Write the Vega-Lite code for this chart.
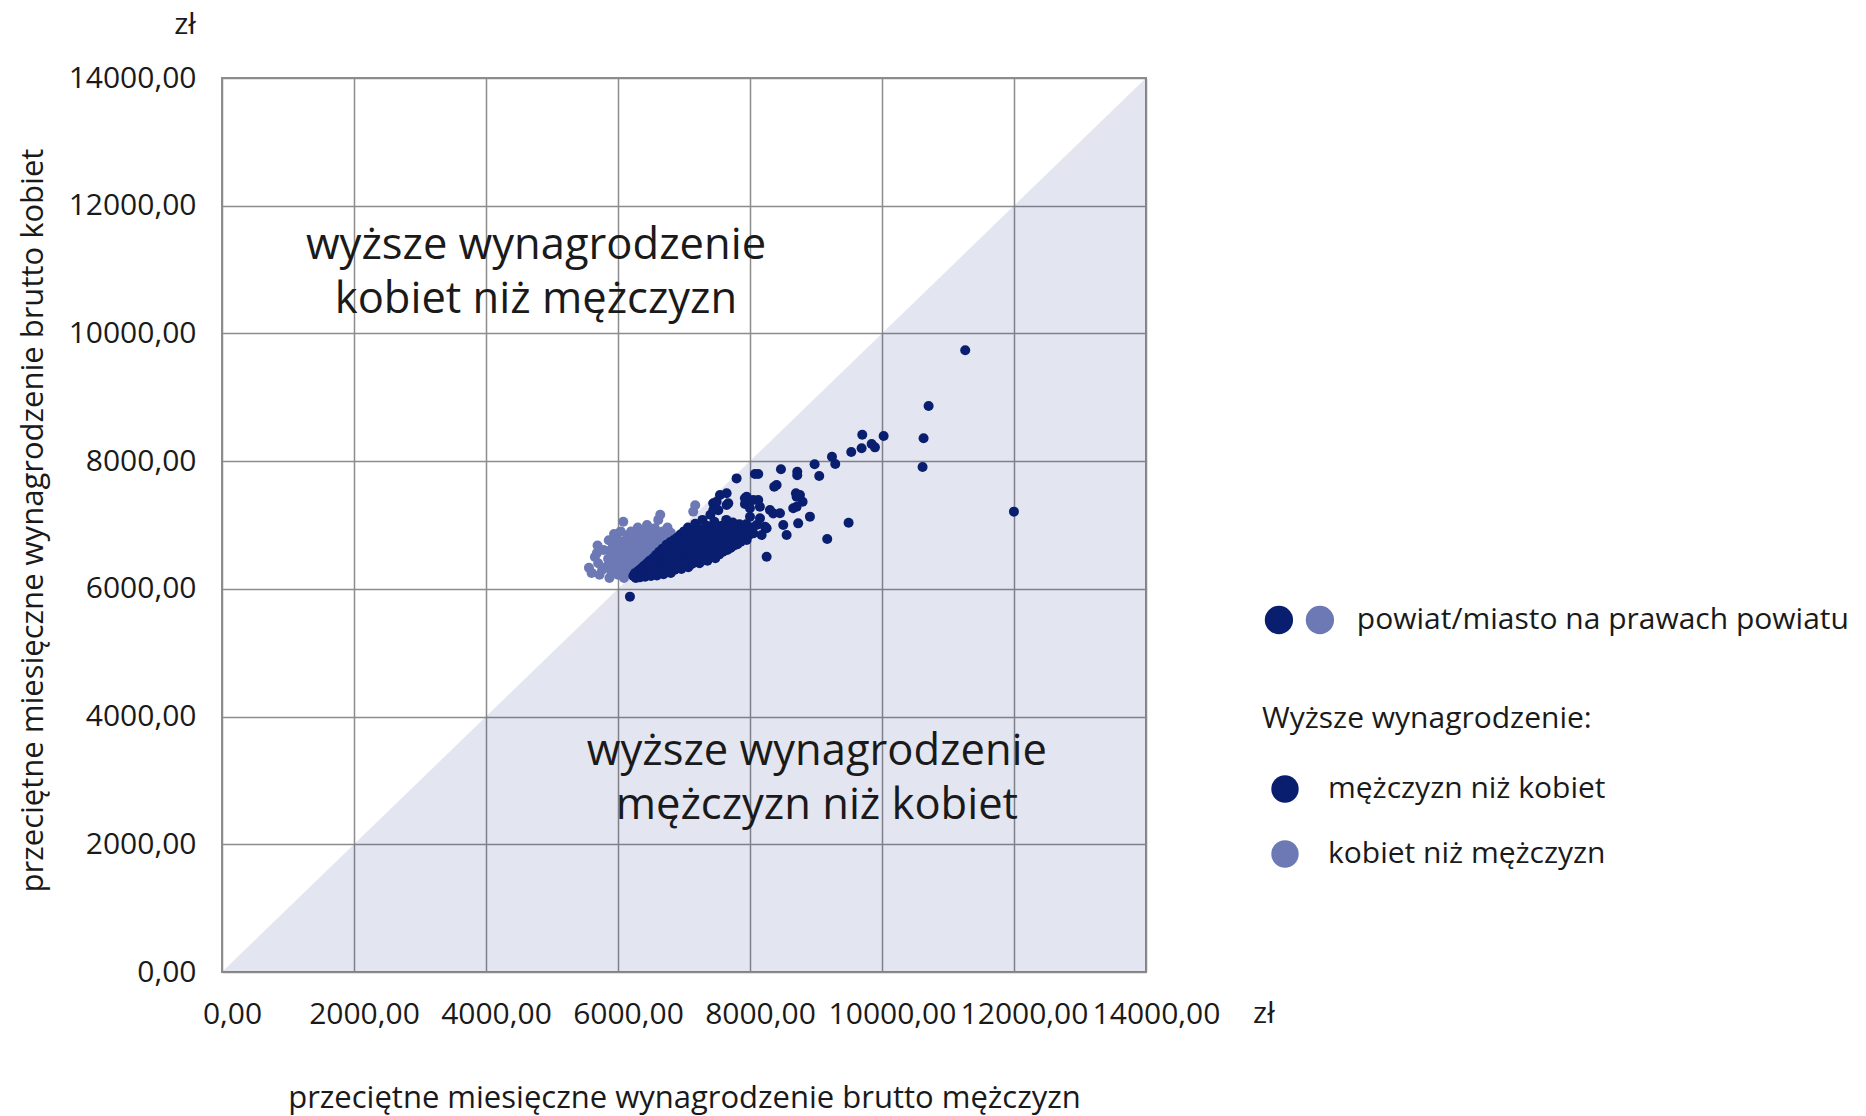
{
"$schema": "https://vega.github.io/schema/vega-lite/v6.json",
"width": 924, "height": 894,
"autosize": {"type": "none"},
"padding": {"left": 222, "top": 78, "right": 720, "bottom": 144},
"background": "white",
"config": {"view": {"stroke": "#8c8c8c", "strokeWidth": 2}, "font": "Open Sans", "text": {"color": "#1a1a1a"}},
"datasets": {
"tri": [{"x":0,"y":0},{"x":14000,"y":14000}],
"big": [{"x":4757,"y":11369,"t":"wyższe wynagrodzenie\nkobiet niż mężczyzn"},{"x":9014,"y":3445,"t":"wyższe wynagrodzenie\nmężczyzn niż kobiet"}],
"zl": [{"x":-560,"y":14830,"t":"zł"},{"x":15786,"y":-658,"t":"zł"}],
"legtxt": [{"x":17195,"y":5512,"t":"powiat/miasto na prawach powiatu"}],
"legdot": [{"x":16014,"y":5512,"g":"m"},{"x":16635,"y":5512,"g":"k"}],
"pts": [
{"x":5560,"y":6330,"g":"k"},{"x":5600,"y":6250,"g":"k"},{"x":5650,"y":6500,"g":"k"},{"x":5680,"y":6560,"g":"k"},{"x":5690,"y":6680,"g":"k"},{"x":5720,"y":6220,"g":"k"},{"x":5700,"y":6400,"g":"k"},{"x":5760,"y":6300,"g":"k"},{"x":5780,"y":6610,"g":"k"},
{"x":5830,"y":6350,"g":"k"},{"x":5850,"y":6470,"g":"k"},{"x":5860,"y":6760,"g":"k"},{"x":5870,"y":6170,"g":"k"},{"x":5880,"y":6600,"g":"k"},
{"x":5900,"y":6260,"g":"k"},{"x":5910,"y":6380,"g":"k"},{"x":5920,"y":6700,"g":"k"},{"x":5930,"y":6520,"g":"k"},{"x":5940,"y":6860,"g":"k"},
{"x":5960,"y":6310,"g":"k"},{"x":5970,"y":6440,"g":"k"},{"x":5980,"y":6620,"g":"k"},{"x":5990,"y":6780,"g":"k"},
{"x":6000,"y":6220,"g":"k"},{"x":6010,"y":6360,"g":"k"},{"x":6020,"y":6500,"g":"k"},{"x":6030,"y":6680,"g":"k"},{"x":6040,"y":6900,"g":"k"},
{"x":6060,"y":6270,"g":"k"},{"x":6070,"y":6420,"g":"k"},{"x":6080,"y":6560,"g":"k"},{"x":6080,"y":7050,"g":"k"},{"x":6090,"y":6740,"g":"k"},{"x":6090,"y":6170,"g":"k"},
{"x":6110,"y":6330,"g":"k"},{"x":6120,"y":6470,"g":"k"},{"x":6130,"y":6620,"g":"k"},{"x":6140,"y":6840,"g":"k"},
{"x":6160,"y":6250,"g":"k"},{"x":6170,"y":6390,"g":"k"},{"x":6180,"y":6540,"g":"k"},{"x":6190,"y":6700,"g":"k"},{"x":6200,"y":6900,"g":"k"},
{"x":6210,"y":6310,"g":"k"},{"x":6220,"y":6450,"g":"k"},{"x":6230,"y":6600,"g":"k"},{"x":6240,"y":6780,"g":"k"},
{"x":6260,"y":6360,"g":"k"},{"x":6270,"y":6510,"g":"k"},{"x":6280,"y":6660,"g":"k"},{"x":6300,"y":6960,"g":"k"},{"x":6310,"y":6850,"g":"k"},
{"x":6320,"y":6420,"g":"k"},{"x":6330,"y":6570,"g":"k"},{"x":6340,"y":6730,"g":"k"},
{"x":6370,"y":6480,"g":"k"},{"x":6380,"y":6630,"g":"k"},{"x":6390,"y":6800,"g":"k"},{"x":6410,"y":6920,"g":"k"},
{"x":6420,"y":6540,"g":"k"},{"x":6430,"y":6690,"g":"k"},{"x":6440,"y":7000,"g":"k"},
{"x":6470,"y":6600,"g":"k"},{"x":6480,"y":6760,"g":"k"},{"x":6500,"y":6880,"g":"k"},
{"x":6520,"y":6650,"g":"k"},{"x":6540,"y":6810,"g":"k"},{"x":6560,"y":6950,"g":"k"},
{"x":6580,"y":6700,"g":"k"},{"x":6600,"y":6860,"g":"k"},{"x":6610,"y":7080,"g":"k"},{"x":6640,"y":7160,"g":"k"},{"x":6650,"y":6760,"g":"k"},{"x":6680,"y":6900,"g":"k"},
{"x":6720,"y":6800,"g":"k"},{"x":6750,"y":6960,"g":"k"},{"x":6800,"y":6880,"g":"k"},{"x":7140,"y":7210,"g":"k"},{"x":7170,"y":7310,"g":"k"},
{"x":6232,"y":6200,"g":"m"},
{"x":6255,"y":6245,"g":"m"},{"x":6270,"y":6170,"g":"m"},
{"x":6300,"y":6215,"g":"m"},{"x":6310,"y":6285,"g":"m"},
{"x":6330,"y":6180,"g":"m"},{"x":6345,"y":6260,"g":"m"},{"x":6350,"y":6320,"g":"m"},
{"x":6375,"y":6225,"g":"m"},{"x":6380,"y":6300,"g":"m"},{"x":6395,"y":6360,"g":"m"},
{"x":6410,"y":6190,"g":"m"},{"x":6420,"y":6265,"g":"m"},{"x":6430,"y":6340,"g":"m"},{"x":6440,"y":6400,"g":"m"},
{"x":6460,"y":6230,"g":"m"},{"x":6465,"y":6310,"g":"m"},{"x":6475,"y":6385,"g":"m"},{"x":6480,"y":6440,"g":"m"},
{"x":6500,"y":6200,"g":"m"},{"x":6505,"y":6280,"g":"m"},{"x":6515,"y":6355,"g":"m"},{"x":6520,"y":6425,"g":"m"},{"x":6530,"y":6480,"g":"m"},
{"x":6545,"y":6245,"g":"m"},{"x":6550,"y":6320,"g":"m"},{"x":6560,"y":6400,"g":"m"},{"x":6565,"y":6470,"g":"m"},{"x":6575,"y":6530,"g":"m"},
{"x":6590,"y":6210,"g":"m"},{"x":6595,"y":6290,"g":"m"},{"x":6600,"y":6370,"g":"m"},{"x":6610,"y":6450,"g":"m"},{"x":6615,"y":6520,"g":"m"},{"x":6625,"y":6580,"g":"m"},
{"x":6640,"y":6260,"g":"m"},{"x":6650,"y":6340,"g":"m"},{"x":6655,"y":6420,"g":"m"},{"x":6660,"y":6500,"g":"m"},{"x":6670,"y":6570,"g":"m"},{"x":6675,"y":6630,"g":"m"},
{"x":6690,"y":6230,"g":"m"},{"x":6700,"y":6310,"g":"m"},{"x":6705,"y":6390,"g":"m"},{"x":6710,"y":6470,"g":"m"},{"x":6720,"y":6550,"g":"m"},{"x":6725,"y":6620,"g":"m"},{"x":6735,"y":6690,"g":"m"},
{"x":6750,"y":6275,"g":"m"},{"x":6760,"y":6355,"g":"m"},{"x":6765,"y":6435,"g":"m"},{"x":6770,"y":6515,"g":"m"},{"x":6780,"y":6590,"g":"m"},{"x":6785,"y":6660,"g":"m"},{"x":6790,"y":6730,"g":"m"},
{"x":6800,"y":6250,"g":"m"},{"x":6810,"y":6330,"g":"m"},{"x":6815,"y":6410,"g":"m"},{"x":6820,"y":6490,"g":"m"},{"x":6830,"y":6570,"g":"m"},{"x":6835,"y":6650,"g":"m"},{"x":6840,"y":6760,"g":"m"},
{"x":6860,"y":6300,"g":"m"},{"x":6865,"y":6385,"g":"m"},{"x":6870,"y":6465,"g":"m"},{"x":6880,"y":6545,"g":"m"},{"x":6885,"y":6625,"g":"m"},{"x":6890,"y":6700,"g":"m"},{"x":6895,"y":6800,"g":"m"},
{"x":6910,"y":6330,"g":"m"},{"x":6915,"y":6410,"g":"m"},{"x":6920,"y":6495,"g":"m"},{"x":6930,"y":6575,"g":"m"},{"x":6935,"y":6655,"g":"m"},{"x":6940,"y":6735,"g":"m"},{"x":6945,"y":6850,"g":"m"},
{"x":6960,"y":6310,"g":"m"},{"x":6965,"y":6390,"g":"m"},{"x":6970,"y":6470,"g":"m"},{"x":6980,"y":6550,"g":"m"},{"x":6985,"y":6630,"g":"m"},{"x":6990,"y":6710,"g":"m"},{"x":6995,"y":6790,"g":"m"},{"x":7000,"y":6900,"g":"m"},
{"x":7010,"y":6360,"g":"m"},{"x":7020,"y":6440,"g":"m"},{"x":7025,"y":6520,"g":"m"},{"x":7030,"y":6600,"g":"m"},{"x":7040,"y":6680,"g":"m"},{"x":7045,"y":6760,"g":"m"},{"x":7050,"y":6860,"g":"m"},{"x":7060,"y":6960,"g":"m"},
{"x":7065,"y":6340,"g":"m"},{"x":7070,"y":6420,"g":"m"},{"x":7080,"y":6500,"g":"m"},{"x":7085,"y":6580,"g":"m"},{"x":7090,"y":6660,"g":"m"},{"x":7100,"y":6740,"g":"m"},{"x":7105,"y":6830,"g":"m"},
{"x":7120,"y":6390,"g":"m"},{"x":7125,"y":6470,"g":"m"},{"x":7130,"y":6550,"g":"m"},{"x":7140,"y":6630,"g":"m"},{"x":7145,"y":6710,"g":"m"},{"x":7150,"y":6790,"g":"m"},{"x":7160,"y":6890,"g":"m"},{"x":7170,"y":7020,"g":"m"},
{"x":7180,"y":6420,"g":"m"},{"x":7185,"y":6500,"g":"m"},{"x":7195,"y":6580,"g":"m"},{"x":7200,"y":6660,"g":"m"},{"x":7205,"y":6740,"g":"m"},{"x":7215,"y":6830,"g":"m"},{"x":7220,"y":6940,"g":"m"},
{"x":7235,"y":6400,"g":"m"},{"x":7240,"y":6480,"g":"m"},{"x":7250,"y":6560,"g":"m"},{"x":7255,"y":6640,"g":"m"},{"x":7260,"y":6720,"g":"m"},{"x":7270,"y":6810,"g":"m"},{"x":7275,"y":6910,"g":"m"},{"x":7280,"y":7080,"g":"m"},
{"x":7295,"y":6450,"g":"m"},{"x":7300,"y":6530,"g":"m"},{"x":7310,"y":6610,"g":"m"},{"x":7315,"y":6690,"g":"m"},{"x":7320,"y":6770,"g":"m"},{"x":7330,"y":6860,"g":"m"},{"x":7340,"y":6990,"g":"m"},
{"x":7355,"y":6440,"g":"m"},{"x":7360,"y":6520,"g":"m"},{"x":7370,"y":6600,"g":"m"},{"x":7375,"y":6680,"g":"m"},{"x":7380,"y":6760,"g":"m"},{"x":7390,"y":6850,"g":"m"},{"x":7400,"y":7160,"g":"m"},
{"x":7415,"y":6500,"g":"m"},{"x":7420,"y":6580,"g":"m"},{"x":7430,"y":6660,"g":"m"},{"x":7435,"y":6740,"g":"m"},{"x":7440,"y":6820,"g":"m"},{"x":7450,"y":6920,"g":"m"},{"x":7460,"y":7050,"g":"m"},
{"x":7475,"y":6480,"g":"m"},{"x":7480,"y":6560,"g":"m"},{"x":7490,"y":6640,"g":"m"},{"x":7495,"y":6720,"g":"m"},{"x":7500,"y":6800,"g":"m"},{"x":7510,"y":6900,"g":"m"},{"x":7520,"y":7230,"g":"m"},
{"x":7535,"y":6540,"g":"m"},{"x":7545,"y":6620,"g":"m"},{"x":7550,"y":6700,"g":"m"},{"x":7560,"y":6780,"g":"m"},{"x":7565,"y":6870,"g":"m"},{"x":7575,"y":6990,"g":"m"},
{"x":7590,"y":6580,"g":"m"},{"x":7600,"y":6660,"g":"m"},{"x":7610,"y":6740,"g":"m"},{"x":7620,"y":6830,"g":"m"},{"x":7630,"y":6930,"g":"m"},{"x":7640,"y":7080,"g":"m"},
{"x":7655,"y":6610,"g":"m"},{"x":7665,"y":6690,"g":"m"},{"x":7670,"y":6780,"g":"m"},{"x":7680,"y":6870,"g":"m"},{"x":7690,"y":6980,"g":"m"},
{"x":7705,"y":6640,"g":"m"},{"x":7715,"y":6730,"g":"m"},{"x":7725,"y":6820,"g":"m"},{"x":7730,"y":6920,"g":"m"},{"x":7740,"y":7040,"g":"m"},
{"x":7760,"y":6680,"g":"m"},{"x":7770,"y":6770,"g":"m"},{"x":7780,"y":6870,"g":"m"},{"x":7790,"y":6970,"g":"m"},
{"x":7810,"y":6700,"g":"m"},{"x":7820,"y":6800,"g":"m"},{"x":7830,"y":6910,"g":"m"},{"x":7840,"y":7010,"g":"m"},
{"x":7860,"y":6740,"g":"m"},{"x":7875,"y":6840,"g":"m"},{"x":7890,"y":6950,"g":"m"},
{"x":7910,"y":6780,"g":"m"},{"x":7925,"y":6880,"g":"m"},{"x":7940,"y":7010,"g":"m"},
{"x":7960,"y":6820,"g":"m"},{"x":7975,"y":6930,"g":"m"},
{"x":8010,"y":6860,"g":"m"},{"x":8030,"y":6960,"g":"m"},
{"x":6181,"y":5878,"g":"m"},
{"x":7443,"y":7339,"g":"m"},{"x":7545,"y":7470,"g":"m"},{"x":7646,"y":7496,"g":"m"},{"x":7671,"y":7339,"g":"m"},{"x":7797,"y":7730,"g":"m"},{"x":7923,"y":7417,"g":"m"},{"x":7923,"y":7330,"g":"m"},{"x":8000,"y":7130,"g":"m"},{"x":8050,"y":6869,"g":"m"},{"x":8100,"y":7000,"g":"m"},{"x":8125,"y":7391,"g":"m"},{"x":8150,"y":7287,"g":"m"},{"x":7949,"y":6765,"g":"m"},{"x":8252,"y":6948,"g":"m"},{"x":8302,"y":7235,"g":"m"},{"x":8353,"y":7182,"g":"m"},{"x":8403,"y":7626,"g":"m"},{"x":8075,"y":7798,"g":"m"},{"x":8125,"y":7798,"g":"m"},{"x":8706,"y":7443,"g":"m"},{"x":8706,"y":7287,"g":"m"},{"x":8504,"y":7000,"g":"m"},{"x":8555,"y":6843,"g":"m"},{"x":8252,"y":6504,"g":"m"},{"x":8367,"y":7600,"g":"m"},{"x":8469,"y":7873,"g":"m"},{"x":8716,"y":7835,"g":"m"},{"x":8716,"y":7779,"g":"m"},{"x":8655,"y":7261,"g":"m"},{"x":8730,"y":7026,"g":"m"},{"x":8908,"y":7131,"g":"m"},{"x":8797,"y":7365,"g":"m"},{"x":8696,"y":7496,"g":"m"},{"x":8757,"y":7470,"g":"m"},{"x":8454,"y":7183,"g":"m"},{"x":8226,"y":6974,"g":"m"},{"x":8176,"y":6843,"g":"m"},{"x":8151,"y":7104,"g":"m"},{"x":8050,"y":7392,"g":"m"},{"x":7999,"y":7261,"g":"m"},{"x":7495,"y":7365,"g":"m"},{"x":7646,"y":7313,"g":"m"},{"x":7444,"y":7235,"g":"m"},{"x":7949,"y":7443,"g":"m"},
{"x":9049,"y":7767,"g":"m"},{"x":8979,"y":7950,"g":"m"},{"x":9242,"y":8070,"g":"m"},{"x":9292,"y":7955,"g":"m"},{"x":9534,"y":8143,"g":"m"},{"x":9691,"y":8201,"g":"m"},{"x":9701,"y":8414,"g":"m"},{"x":9843,"y":8268,"g":"m"},{"x":9893,"y":8216,"g":"m"},{"x":10025,"y":8394,"g":"m"},{"x":10630,"y":8358,"g":"m"},{"x":10615,"y":7908,"g":"m"},{"x":10706,"y":8864,"g":"m"},{"x":11261,"y":9736,"g":"m"},{"x":11999,"y":7209,"g":"m"},{"x":9494,"y":7036,"g":"m"},{"x":9170,"y":6780,"g":"m"}
]
},
"layer": [
{"data": {"name": "tri"}, "mark": {"type": "area", "color": "#1b2a85", "opacity": 0.12},
 "encoding": {
  "x": {"field": "x", "type": "quantitative", "scale": {"domain": [0, 14000], "nice": false, "zero": false},
   "axis": {"title": "przeciętne miesięczne wynagrodzenie brutto mężczyzn", "values": [0,2000,4000,6000,8000,10000,12000,14000],
    "labelExpr": "replace(format(datum.value, '.2f'), '.', ',')", "grid": true, "gridColor": "#8c8c8c", "gridWidth": 1.5,
    "ticks": false, "domain": false, "labelFontSize": 30, "labelColor": "#1a1a1a", "labelPadding": 27, "labelOffset": 10,
    "labelFlush": false, "labelOverlap": false, "titleFontSize": 31, "titleFontWeight": "normal", "titleColor": "#1a1a1a",
    "titleX": 462, "titleY": 126, "titleBaseline": "middle", "titleAlign": "center"}},
  "y": {"field": "y", "type": "quantitative", "scale": {"domain": [0, 14000], "nice": false, "zero": false},
   "axis": {"title": "przeciętne miesięczne wynagrodzenie brutto kobiet", "values": [0,2000,4000,6000,8000,10000,12000,14000],
    "labelExpr": "replace(format(datum.value, '.2f'), '.', ',')", "grid": true, "gridColor": "#8c8c8c", "gridWidth": 1.5,
    "ticks": false, "domain": false, "labelFontSize": 30, "labelColor": "#1a1a1a", "labelPadding": 26,
    "labelFlush": false, "labelOverlap": false, "titleFontSize": 31, "titleFontWeight": "normal", "titleColor": "#1a1a1a",
    "titleX": -189, "titleY": 442, "titleAngle": 270, "titleBaseline": "middle", "titleAlign": "center"}},
  "y2": {"datum": 0}}},
{"data": {"name": "pts"}, "mark": {"type": "circle", "size": 100, "opacity": 1},
 "encoding": {
  "x": {"field": "x", "type": "quantitative", "scale": {"domain": [0, 14000]}},
  "y": {"field": "y", "type": "quantitative", "scale": {"domain": [0, 14000]}},
  "color": {"field": "g", "type": "nominal", "sort": null, "scale": {"domain": ["m", "k"], "range": ["#0a1e70", "#6c79b5"]},
   "legend": {"title": "Wyższe wynagrodzenie:", "orient": "none", "legendX": 1040, "legendY": 626,
    "labelExpr": "datum.value == 'm' ? 'mężczyzn niż kobiet' : 'kobiet niż mężczyzn'",
    "titleFontSize": 30, "titleFontWeight": "normal", "titleColor": "#1a1a1a", "titleLimit": 0,
    "labelFontSize": 30, "labelColor": "#1a1a1a", "labelLimit": 0,
    "symbolSize": 750, "symbolType": "circle", "symbolStrokeWidth": 0, "symbolOffset": 8,
    "titlePadding": 40, "rowPadding": 35, "labelOffset": 28, "padding": 0}}}},
{"data": {"name": "legdot"}, "mark": {"type": "circle", "size": 800, "opacity": 1},
 "encoding": {
  "x": {"field": "x", "type": "quantitative", "scale": {"domain": [0, 14000]}},
  "y": {"field": "y", "type": "quantitative", "scale": {"domain": [0, 14000]}},
  "color": {"field": "g", "type": "nominal"}}},
{"data": {"name": "big"}, "mark": {"type": "text", "fontSize": 43.5, "lineBreak": "\n", "lineHeight": 54, "align": "center", "baseline": "middle", "color": "#1a1a1a"},
 "encoding": {
  "x": {"field": "x", "type": "quantitative", "scale": {"domain": [0, 14000]}},
  "y": {"field": "y", "type": "quantitative", "scale": {"domain": [0, 14000]}},
  "text": {"field": "t"}}},
{"data": {"name": "zl"}, "mark": {"type": "text", "fontSize": 30, "align": "center", "baseline": "middle", "color": "#1a1a1a"},
 "encoding": {
  "x": {"field": "x", "type": "quantitative", "scale": {"domain": [0, 14000]}},
  "y": {"field": "y", "type": "quantitative", "scale": {"domain": [0, 14000]}},
  "text": {"field": "t"}}},
{"data": {"name": "legtxt"}, "mark": {"type": "text", "fontSize": 30, "align": "left", "baseline": "middle", "color": "#1a1a1a"},
 "encoding": {
  "x": {"field": "x", "type": "quantitative", "scale": {"domain": [0, 14000]}},
  "y": {"field": "y", "type": "quantitative", "scale": {"domain": [0, 14000]}},
  "text": {"field": "t"}}}
]
}
